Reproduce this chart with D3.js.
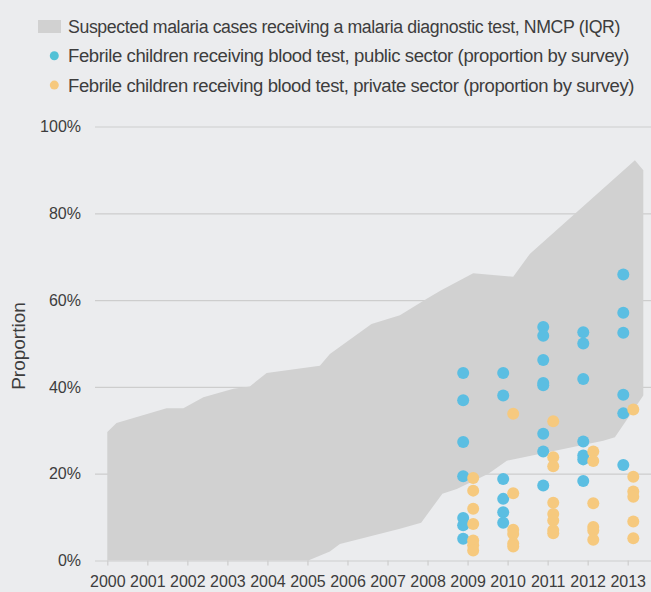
<!DOCTYPE html>
<html>
<head>
<meta charset="utf-8">
<script src="https://cdn.jsdelivr.net/npm/d3@7"></script>
<style>
  body { margin: 0; background: #ebecee; }
  svg { display: block; }
</style>
</head>
<body>
<svg id="chart" width="651" height="592"></svg>
<script>
// survey years with dots
var surveyYears = [2009, 2010, 2011, 2012, 2013];

// public sector, % of febrile children tested (one list per year)
var publicSector = [
  [43.2, 36.9, 27.3, 19.4, 9.8, 8.1, 5.0],
  [43.2, 38.0, 18.8, 14.2, 11.1, 8.7],
  [53.8, 51.8, 46.2, 40.9, 40.4, 29.2, 25.1, 17.3],
  [52.6, 50.0, 41.8, 27.4, 24.2, 23.3, 18.3],
  [65.9, 57.1, 52.5, 38.2, 33.9, 22.0]
];

// private sector
var privateSector = [
  [19.0, 16.1, 11.9, 8.4, 4.6, 3.5, 2.3],
  [33.8, 15.5, 7.1, 6.1, 3.9, 3.2],
  [32.1, 23.8, 21.7, 13.3, 10.7, 9.2, 7.0, 6.3],
  [25.1, 22.9, 13.2, 7.7, 6.9, 4.8],
  [34.8, 19.3, 15.9, 14.7, 9.0, 5.1]
];

// NMCP IQR band, upper edge [year, %]
var iqrUpper = [
  [2000.0, 29.6], [2000.23, 31.7], [2001.48, 35.1], [2001.9, 35.1],
  [2002.4, 37.6], [2003.15, 39.6], [2003.56, 40.1], [2003.98, 43.2],
  [2005.31, 44.9], [2005.56, 47.6], [2006.6, 54.5], [2007.31, 56.5],
  [2007.98, 60.3], [2008.33, 62.2], [2009.14, 66.2], [2010.14, 65.4],
  [2010.56, 70.7], [2013.18, 92.2], [2013.39, 89.9]
];

// lower edge [year, %]
var iqrLower = [
  [2000.0, 0], [2005.02, 0], [2005.56, 2.1], [2005.81, 3.8],
  [2007.31, 7.3], [2007.84, 8.7], [2008.37, 15.4], [2008.73, 16.5],
  [2009.52, 20.0], [2009.98, 23.0], [2012.39, 27.6], [2012.68, 28.4],
  [2013.39, 38.0]
];

var axisYears = d3.range(2000, 2014);
var yTicks = [0, 20, 40, 60, 80, 100];

var legendItems = [
  { label: 'Suspected malaria cases receiving a malaria diagnostic test, NMCP (IQR)', type: 'band', len: 552 },
  { label: 'Febrile children receiving blood test, public sector (proportion by survey)', type: 'public', len: 561 },
  { label: 'Febrile children receiving blood test, private sector (proportion by survey)', type: 'private', len: 566 }
];

var FONT = "'Liberation Sans Narrow', 'Arial Narrow', 'Liberation Sans', sans-serif";
var TEXT = '#3d3d3d';
var GRID = '#cdcdcd';
var BAND = '#d1d1d1';
var BLUE = '#5bbee2';
var ORANGE = '#f6c97e';

var svg = d3.select('#chart');
svg.append('rect').attr('width', 651).attr('height', 592).attr('fill', '#ebecee');

var x = d3.scaleLinear().domain([2000, 2013]).range([107.3, 627.7]);
var y = d3.scaleLinear().domain([0, 100]).range([560.5, 126.5]);

// gridlines + y labels
var yAxis = svg.append('g')
  .attr('transform', 'translate(95,0)')
  .call(d3.axisLeft(y).tickValues(yTicks).tickSize(-(651 - 95)).tickPadding(14)
    .tickFormat(function(d) { return d + '%'; }));
yAxis.select('.domain').remove();
yAxis.selectAll('line').attr('stroke', GRID).attr('stroke-width', 1.2);
yAxis.selectAll('text')
  .attr('font-family', FONT).attr('font-size', 16).attr('fill', TEXT);

// band
var bandLine = d3.line().x(function(d) { return x(d[0]); }).y(function(d) { return y(d[1]); });
svg.append('path')
  .attr('d', bandLine(iqrUpper.concat(iqrLower.slice().reverse())) + 'Z')
  .attr('fill', BAND);

// x axis ticks + labels
var xAxis = svg.append('g')
  .attr('transform', 'translate(0,' + y(0) + ')')
  .call(d3.axisBottom(x).tickValues(axisYears).tickSize(5).tickFormat(d3.format('d')));
xAxis.select('.domain').remove();
xAxis.selectAll('line').attr('stroke', GRID).attr('stroke-width', 1.2);
xAxis.selectAll('text')
  .attr('y', 26.5).attr('dy', 0)
  .attr('font-family', FONT).attr('font-size', 16).attr('fill', TEXT);

// dots, public left of tick, private right of tick
function addDots(series, offset, color) {
  var pts = [];
  series.forEach(function(vals, i) {
    vals.forEach(function(v) { pts.push([surveyYears[i] + offset, v]); });
  });
  svg.append('g').selectAll('circle').data(pts).join('circle')
    .attr('cx', function(d) { return x(d[0]); })
    .attr('cy', function(d) { return y(d[1]); })
    .attr('r', 6)
    .attr('fill', color);
}
addDots(publicSector, -0.11, BLUE);
addDots(privateSector, 0.14, ORANGE);

// y title
svg.append('text')
  .attr('transform', 'translate(25,346) rotate(-90)')
  .attr('text-anchor', 'middle')
  .attr('font-family', FONT).attr('font-size', 19).attr('fill', TEXT)
  .text('Proportion');

// legend
var legend = svg.append('g');
legendItems.forEach(function(item, i) {
  var cy = 26.5 + i * 29.3;
  if (item.type === 'band') {
    legend.append('rect').attr('x', 38).attr('y', cy - 6.5).attr('width', 23).attr('height', 13).attr('fill', BAND);
  } else {
    legend.append('circle').attr('cx', 54.3).attr('cy', cy).attr('r', 4.5)
      .attr('fill', item.type === 'public' ? '#52c1d6' : ORANGE);
  }
  legend.append('text')
    .attr('x', 68).attr('y', cy + 6.5)
    .attr('letter-spacing', '-0.4px')
    .attr('textLength', item.len).attr('lengthAdjust', 'spacingAndGlyphs')
    .attr('font-family', FONT).attr('font-size', 18).attr('fill', TEXT)
    .text(item.label);
});
</script>
</body>
</html>
